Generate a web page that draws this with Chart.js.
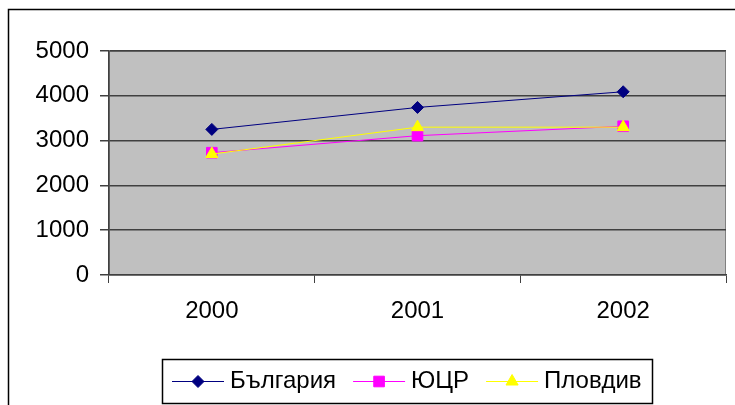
<!DOCTYPE html>
<html>
<head>
<meta charset="utf-8">
<script src="https://cdn.jsdelivr.net/npm/chart.js@4/dist/chart.umd.min.js"></script>
<style>
  html, body { margin: 0; padding: 0; background: #fff; }
  #wrap { width: 735px; height: 405px; position: relative; }
</style>
</head>
<body>
<div id="wrap"><canvas id="chart" width="735" height="405"></canvas></div>
<script>
const years = ['2000', '2001', '2002'];
const bulgaria = [3250, 3740, 4090];
const yucr = [2730, 3110, 3320];
const plovdiv = [2700, 3300, 3300];
const seriesNames = ['България', 'ЮЦР', 'Пловдив'];

const FONT = '"Liberation Sans", Arial, sans-serif';
const AXIS = '#404040';

// outer frame + gray plot area, drawn before the scales
const backdrop = {
  id: 'backdrop',
  beforeDraw(chart) {
    const { ctx, chartArea: a } = chart;
    ctx.save();
    ctx.strokeStyle = '#000';
    ctx.lineWidth = 1.5;
    ctx.beginPath();
    ctx.moveTo(8.5, 405);
    ctx.lineTo(8.5, 9.5);
    ctx.lineTo(735, 9.5);
    ctx.stroke();
    ctx.fillStyle = '#c0c0c0';
    ctx.fillRect(a.left, a.top, a.right - a.left, a.bottom - a.top);
    ctx.strokeStyle = '#808080';
    ctx.lineWidth = 1;
    ctx.strokeRect(a.left + 0.5, a.top + 0.5, a.right - a.left - 1, a.bottom - a.top - 1);
    ctx.restore();
  }
};

// legend in a box: line + marker, then the name
const boxLegend = {
  id: 'boxLegend',
  afterDraw(chart) {
    const { ctx } = chart;
    const box = { x: 162, y: 359, w: 490, h: 44 };
    ctx.save();
    ctx.strokeStyle = '#000';
    ctx.lineWidth = 1.5;
    ctx.strokeRect(box.x + 0.5, box.y + 0.5, box.w, box.h);
    ctx.font = '24px ' + FONT;
    ctx.textBaseline = 'middle';
    ctx.fillStyle = '#000';
    const cy = box.y + box.h / 2 + 0.5;
    let x = 172;
    chart.data.datasets.forEach(ds => {
      ctx.strokeStyle = ds.borderColor;
      ctx.lineWidth = 1;
      ctx.beginPath();
      ctx.moveTo(x, cy);
      ctx.lineTo(x + 52, cy);
      ctx.stroke();
      ctx.fillStyle = ds.pointBackgroundColor;
      ctx.strokeStyle = ds.pointBorderColor;
      Chart.helpers.drawPoint(ctx, {
        pointStyle: ds.pointStyle, radius: ds.pointRadius, rotation: 0, borderWidth: 1
      }, x + 26, cy);
      ctx.fillStyle = '#000';
      ctx.fillText(ds.label, x + 58, cy);
      x += 58 + ctx.measureText(ds.label).width + 17;
    });
    ctx.restore();
  }
};

new Chart(document.getElementById('chart').getContext('2d'), {
  type: 'line',
  data: {
    labels: years,
    datasets: [
      {
        label: seriesNames[0],
        data: bulgaria,
        borderColor: '#000080',
        borderWidth: 1,
        pointStyle: 'rectRot',
        pointRadius: 6,
        pointBackgroundColor: '#000080',
        pointBorderColor: '#000080',
        tension: 0,
        order: 2,
      },
      {
        label: seriesNames[1],
        data: yucr,
        borderColor: '#ff00ff',
        borderWidth: 1,
        pointStyle: 'rect',
        pointRadius: 7.5,
        pointBackgroundColor: '#ff00ff',
        pointBorderColor: '#ff00ff',
        tension: 0,
        order: 1,
      },
      {
        label: seriesNames[2],
        data: plovdiv,
        borderColor: '#ffff00',
        borderWidth: 1,
        pointStyle: 'triangle',
        pointRadius: 7,
        pointBackgroundColor: '#ffff00',
        pointBorderColor: '#ffff00',
        tension: 0,
        order: 0,
      },
    ],
  },
  options: {
    responsive: false,
    animation: false,
    events: [],
    layout: { padding: { left: 0, top: 51, right: 9, bottom: 75 } },
    plugins: {
      legend: { display: false },
      tooltip: { enabled: false },
    },
    scales: {
      x: {
        offset: true,
        grid: { offset: true, drawOnChartArea: false, drawTicks: true, tickLength: 8, color: AXIS },
        border: { display: true, color: AXIS, width: 1.5 },
        ticks: { color: '#000', font: { family: FONT, size: 24 }, padding: 14, maxRotation: 0 },
        afterFit(s) { s.height = 55; },
      },
      y: {
        min: 0,
        max: 5000,
        ticks: {
          stepSize: 1000, color: '#000', font: { family: FONT, size: 24 }, padding: 11,
          callback: v => String(v),
        },
        grid: { color: AXIS, lineWidth: 1.5, tickLength: 9 },
        border: { display: true, color: AXIS, width: 1.5 },
        afterFit(s) { s.width = 109; },
      },
    },
  },
  plugins: [backdrop, boxLegend],
});
</script>
</body>
</html>
